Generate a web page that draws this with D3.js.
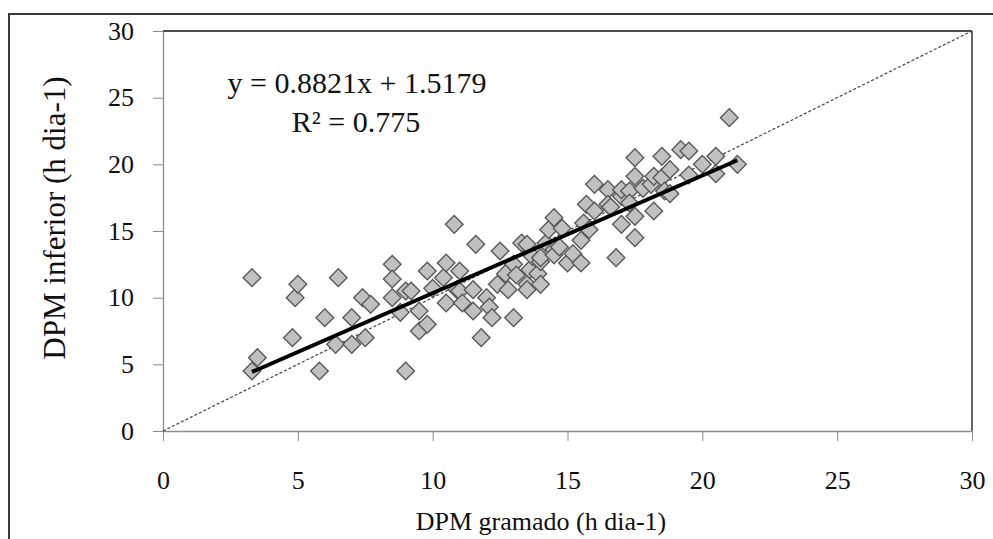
<!DOCTYPE html>
<html>
<head>
<meta charset="utf-8">
<script src="https://cdn.jsdelivr.net/npm/d3@7"></script>
<style>
	body { margin: 0; background: #fff; }
	svg { display: block; }
	svg text { font-family: "Times New Roman", "Liberation Serif", "DejaVu Serif", serif !important; fill: #111; }
	.axis-gray line, .axis-gray path { stroke: #8c8c8c; }
</style>
</head>
<body>
<div class="chart"></div>
<script>
// DPM gramado (x) vs DPM inferior (y), h dia-1
var gramado = [3.3, 3.3, 3.5, 4.8, 4.9, 5.0, 5.8, 6.0, 6.4, 6.5, 7.0, 7.0, 7.4, 7.5, 7.7,
	8.5, 8.5, 8.5, 8.8, 9.0, 9.0, 9.2, 9.5, 9.5, 9.8, 9.8, 10.0, 10.4, 10.5, 10.5,
	10.8, 10.9, 11.0, 11.0, 11.1, 11.5, 11.5, 11.6, 11.8, 12.0, 12.1, 12.2, 12.4, 12.5, 12.7,
	12.8, 13.0, 13.0, 13.1, 13.3, 13.5, 13.5, 13.5, 13.6, 13.7, 13.9, 14.0, 14.0, 14.0, 14.2,
	14.3, 14.5, 14.5, 14.5, 14.7, 14.8, 15.0, 15.2, 15.5, 15.5, 15.6, 15.8, 15.7, 16.0, 16.0,
	16.5, 16.5, 16.6, 16.8, 17.0, 17.0, 17.0, 17.3, 17.3, 17.5, 17.5, 17.5, 17.5, 17.8, 18.1,
	18.2, 18.2, 18.5, 18.5, 18.6, 18.8, 18.8, 19.2, 19.5, 19.5, 20.0, 20.5, 20.5, 21.0, 21.3];
var inferior = [11.5, 4.5, 5.5, 7.0, 10.0, 11.0, 4.5, 8.5, 6.5, 11.5, 8.5, 6.5, 10.0, 7.0, 9.5,
	12.5, 11.4, 10.0, 8.9, 10.5, 4.5, 10.5, 9.0, 7.5, 8.0, 12.0, 10.7, 11.5, 12.6, 9.6,
	15.5, 10.6, 12.0, 10.5, 9.6, 10.6, 9.0, 14.0, 7.0, 10.0, 9.3, 8.5, 11.0, 13.5, 11.8,
	10.6, 12.5, 8.5, 11.7, 14.1, 14.0, 11.0, 10.6, 12.1, 13.1, 11.8, 12.7, 11.0, 13.0, 14.1,
	15.1, 16.0, 13.6, 13.2, 13.8, 15.2, 12.6, 13.3, 12.6, 14.3, 15.6, 15.1, 17.0, 16.5, 18.5,
	18.1, 17.0, 16.8, 13.0, 15.5, 17.6, 18.1, 18.0, 17.1, 20.5, 19.1, 16.1, 14.5, 18.2, 18.5,
	19.1, 16.5, 20.6, 19.0, 18.0, 19.6, 17.8, 21.1, 21.0, 19.2, 20.0, 20.6, 19.3, 23.5, 20.0];
var xTicks = [0, 5, 10, 15, 20, 25, 30];
var yTicks = [0, 5, 10, 15, 20, 25, 30];
var slope = 0.8821, intercept = 1.5179;
var eqLabel = 'y = 0.8821x + 1.5179';
var r2Label = 'R\u00b2 = 0.775';
var xTitle = 'DPM gramado (h dia-1)';
var yTitle = 'DPM inferior (h dia-1)';

var W = 993, H = 539;
var plot = {left: 163, right: 972, top: 31, bottom: 431};
var serif = '"Times New Roman", "Liberation Serif", "DejaVu Serif", serif';

var svg = d3.select('.chart').append('svg').attr('width', W).attr('height', H)
	.style('font-family', serif);

// outer chart frame (cropped on right and bottom in the original)
svg.append('rect').attr('x', 9).attr('y', 14).attr('width', W + 20).attr('height', H + 20)
	.attr('fill', 'none').attr('stroke', '#3a3a3a').attr('stroke-width', 2);

var x = d3.scaleLinear().domain([0, 30]).range([plot.left, plot.right]);
var y = d3.scaleLinear().domain([0, 30]).range([plot.bottom, plot.top]);

// top and right frame of plot area
svg.append('line').attr('x1', plot.left).attr('x2', plot.right).attr('y1', plot.top).attr('y2', plot.top)
	.attr('stroke', '#111').attr('stroke-width', 1.3);
svg.append('line').attr('x1', plot.right).attr('x2', plot.right).attr('y1', plot.top).attr('y2', plot.bottom)
	.attr('stroke', '#111').attr('stroke-width', 1.3);

var xAxis = svg.append('g').attr('class', 'axis-gray').attr('transform', 'translate(0,' + plot.bottom + ')')
	.call(d3.axisBottom(x).tickValues(xTicks).tickSize(10).tickPadding(30).tickSizeOuter(0));
var yAxis = svg.append('g').attr('class', 'axis-gray').attr('transform', 'translate(' + plot.left + ',0)')
	.call(d3.axisLeft(y).tickValues(yTicks).tickSize(10).tickPadding(19).tickSizeOuter(0));
svg.selectAll('.axis-gray').attr('font-family', null);
svg.selectAll('.axis-gray path').attr('stroke-width', 1.3);
svg.selectAll('.axis-gray text').attr('font-size', 26).style('font-family', serif).attr('fill', '#111');

// 1:1 reference line
svg.append('line').attr('x1', x(0)).attr('y1', y(0)).attr('x2', x(30)).attr('y2', y(30))
	.attr('stroke', '#444').attr('stroke-width', 1.2).attr('stroke-dasharray', '3,2');

// points
var pts = d3.zip(gramado, inferior);
var diamond = d3.symbol().type(d3.symbolSquare).size(155);
svg.append('g').selectAll('path').data(pts).enter().append('path')
	.attr('d', diamond)
	.attr('transform', function(d) { return 'translate(' + x(d[0]) + ',' + y(d[1]) + ') rotate(45)'; })
	.attr('fill', '#c0c0c0').attr('stroke', '#5a5a5a').attr('stroke-width', 1.4);

// linear trend
var xmin = d3.min(gramado), xmax = d3.max(gramado);
svg.append('line').attr('x1', x(xmin)).attr('y1', y(slope * xmin + intercept))
	.attr('x2', x(xmax)).attr('y2', y(slope * xmax + intercept))
	.attr('stroke', '#000').attr('stroke-width', 4);

// equation
svg.append('text').attr('x', 357).attr('y', 93).attr('text-anchor', 'middle').attr('font-size', 30)
	.style('font-family', serif).text(eqLabel);
svg.append('text').attr('x', 356).attr('y', 132).attr('text-anchor', 'middle').attr('font-size', 30)
	.style('font-family', serif).text(r2Label);

// titles
svg.append('text').attr('x', 541).attr('y', 530).attr('text-anchor', 'middle').attr('font-size', 26)
	.style('font-family', serif).text(xTitle);
svg.append('text').attr('transform', 'translate(65,218) rotate(-90)').attr('text-anchor', 'middle')
	.attr('font-size', 31).style('font-family', serif).text(yTitle);
</script>
</body>
</html>
